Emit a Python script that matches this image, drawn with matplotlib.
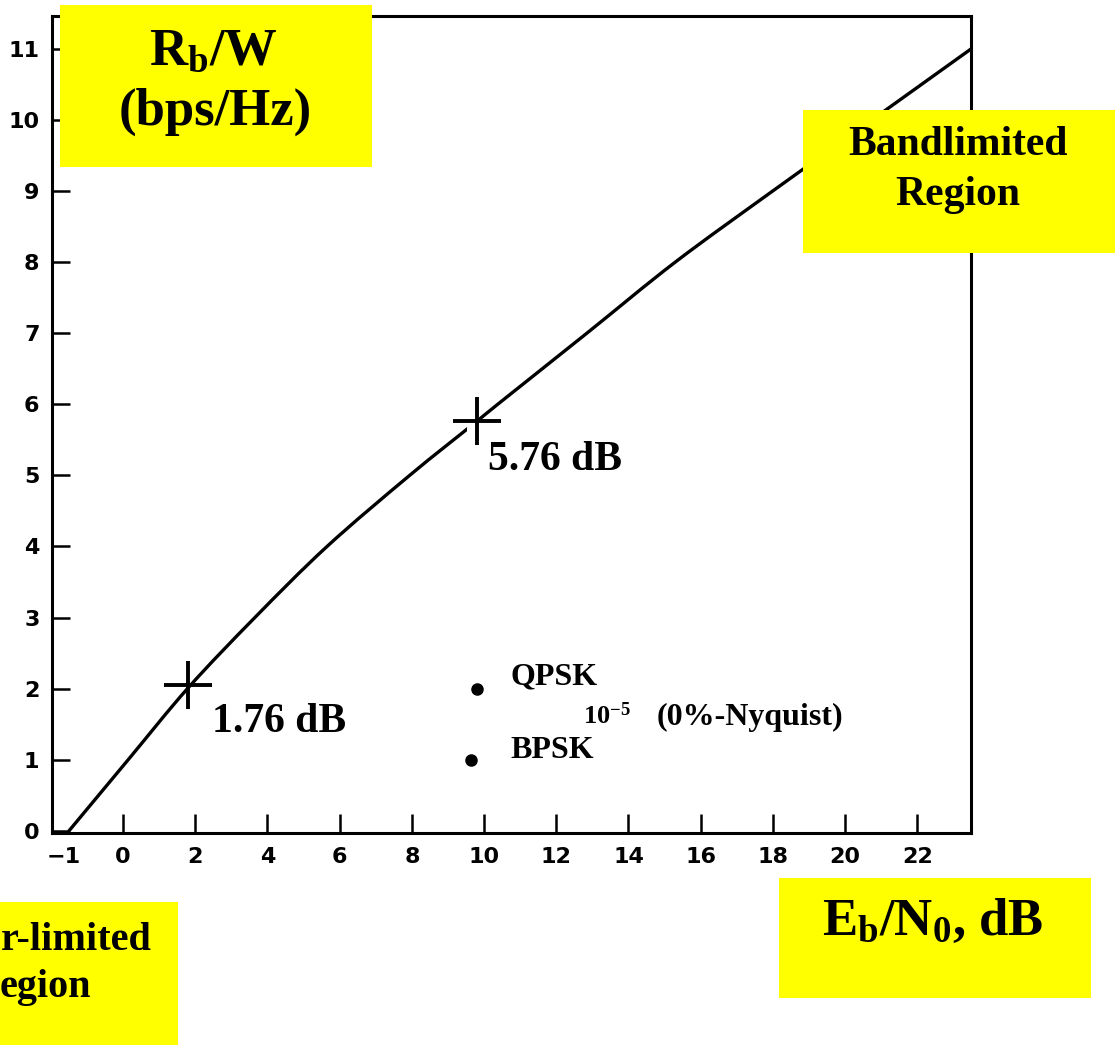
import matplotlib
matplotlib.use("Agg")
import matplotlib.pyplot as plt
from matplotlib.patches import Rectangle, PathPatch
from matplotlib.path import Path

# ---------------- data ----------------
ebn0_db = [-1.5, 0.14, 1.8, 3.65, 5.65, 7.94, 9.8, 10.38, 12.85, 15.3, 18.0, 20.75, 23.5]
rate_bps_hz = [0.0, 1.0, 2.01, 3.0, 4.0, 5.0, 5.76, 6.0, 7.0, 8.0, 9.0, 10.0, 11.0]

cross_x = [1.8, 9.8]          # marked points on the bound
cross_y = [2.05, 5.76]
cross_labels = ["1.76 dB", "5.76 dB"]

mod_names = ["QPSK", "BPSK"]  # modulations at BER 1e-5
mod_x = [9.8, 9.65]
mod_y = [2.0, 1.0]

xtick_values = [-1.65, 0, 2, 4, 6, 8, 10, 12, 14, 16, 18, 20, 22]
xtick_labels = ["\u22121", "0", "2", "4", "6", "8", "10", "12", "14", "16", "18", "20", "22"]
ytick_values = [0, 1, 2, 3, 4, 5, 6, 7, 8, 9, 10, 11]
ytick_labels = [str(v) for v in ytick_values]

# ---------------- style ----------------
plt.rcParams["mathtext.fontset"] = "custom"
plt.rcParams["mathtext.rm"] = "Liberation Serif:bold"
plt.rcParams["mathtext.bf"] = "Liberation Serif:bold"
plt.rcParams["mathtext.it"] = "Liberation Serif:bold"

W, H = 1118, 1045
fig = plt.figure(figsize=(W / 100, H / 100), dpi=100)
fig.patch.set_facecolor("white")


def fx(px):
    return px / W


def fy(py):
    return 1 - py / H


ax = fig.add_axes([fx(52), fy(833), (971 - 52) / W, (833 - 16) / H])
ax.set_xlim(-1.97, 23.49)
ax.set_ylim(-0.03, 11.46)


def smooth_path(xs, ys):
    """Catmull-Rom through the read points, drawn as cubic Bezier segments."""
    pts = list(zip(xs, ys))
    n = len(pts)
    verts = [pts[0]]
    codes = [Path.MOVETO]
    for i in range(n - 1):
        p0 = pts[i - 1] if i > 0 else pts[i]
        p1 = pts[i]
        p2 = pts[i + 1]
        p3 = pts[i + 2] if i + 2 < n else pts[i + 1]
        c1 = (p1[0] + (p2[0] - p0[0]) / 6, p1[1] + (p2[1] - p0[1]) / 6)
        c2 = (p2[0] - (p3[0] - p1[0]) / 6, p2[1] - (p3[1] - p1[1]) / 6)
        verts += [c1, c2, p2]
        codes += [Path.CURVE4] * 3
    return Path(verts, codes)


ax.add_patch(PathPatch(smooth_path(ebn0_db, rate_bps_hz), facecolor="none",
                       edgecolor="black", lw=2.4, zorder=2,
                       capstyle="round", joinstyle="round"))

# white label background that hides part of the curve
ax.add_patch(Rectangle((fx(467), fy(493)), (647 - 467) / W, (493 - 420) / H,
                       transform=fig.transFigure, facecolor="white",
                       edgecolor="none", zorder=3, clip_on=False))

ax.plot(cross_x, cross_y, linestyle="none", marker="+", markersize=34,
        markeredgewidth=2.8, color="black", zorder=4)
ax.plot(mod_x, mod_y, linestyle="none", marker="o", markersize=8,
        color="black", zorder=4)

for s in ax.spines.values():
    s.set_linewidth(2.2)

ax.set_xticks(xtick_values)
ax.set_xticklabels(xtick_labels)
ax.set_yticks(ytick_values)
ax.set_yticklabels(ytick_labels)
ax.tick_params(axis="x", direction="in", length=14, width=1.8, pad=10,
               labelsize=16)
ax.tick_params(axis="y", direction="in", length=13, width=1.8, pad=9,
               labelsize=16)
ax.xaxis.get_major_ticks()[0].tick1line.set_visible(False)
for lab in ax.get_xticklabels() + ax.get_yticklabels():
    lab.set_family("DejaVu Sans")
    lab.set_weight("bold")

serif = "Liberation Serif"

# labels next to crosses
fig.text(fx(279), fy(722), cross_labels[0], family=serif, weight="bold",
         fontsize=30, ha="center", va="center", zorder=6)
fig.text(fx(555), fy(460), cross_labels[1], family=serif, weight="bold",
         fontsize=30, ha="center", va="center", zorder=6)

# modulation labels
fig.text(fx(510), fy(677), mod_names[0], family=serif, weight="bold",
         fontsize=23, ha="left", va="center", zorder=6)
fig.text(fx(510), fy(750), mod_names[1], family=serif, weight="bold",
         fontsize=23, ha="left", va="center", zorder=6)
fig.text(fx(583), fy(717), r"$\mathbf{10^{-5}}$", fontsize=19,
         ha="left", va="center", zorder=6)
fig.text(fx(657), fy(717), "(0%-Nyquist)", family=serif, weight="bold",
         fontsize=23, ha="left", va="center", zorder=6)


# yellow boxes (figure level, above the axes)
def ybox(x0, y0, x1, y1):
    fig.patches.append(Rectangle((fx(x0), fy(y1)), (x1 - x0) / W, (y1 - y0) / H,
                                 transform=fig.transFigure, facecolor="#FFFF00",
                                 edgecolor="none", zorder=5))


ybox(60, 5, 372, 167)
fig.text(fx(213), fy(50), r"$\mathbf{R_b/W}$", fontsize=38,
         ha="center", va="center", zorder=6)
fig.text(fx(215), fy(112), "(bps/Hz)", family=serif, weight="bold",
         fontsize=38, ha="center", va="center", zorder=6)

ybox(803, 110, 1115, 253)
fig.text(fx(958), fy(145), "Bandlimited", family=serif, weight="bold",
         fontsize=30, ha="center", va="center", zorder=6)
fig.text(fx(958), fy(195), "Region", family=serif, weight="bold",
         fontsize=30, ha="center", va="center", zorder=6)

ybox(779, 878, 1091, 998)
fig.text(fx(933), fy(922), r"$\mathbf{E_b/N_0}$, dB", family=serif,
         weight="bold", fontsize=38, ha="center", va="center", zorder=6)

# box that runs off the left edge: only these parts of its words show
ybox(0, 902, 178, 1045)
fig.text(fx(1), fy(940), "r-limited", family=serif, weight="bold",
         fontsize=29, ha="left", va="center", zorder=6)
fig.text(fx(0), fy(988), "egion", family=serif, weight="bold",
         fontsize=29, ha="left", va="center", zorder=6)

fig.savefig("out.png", dpi=100)
